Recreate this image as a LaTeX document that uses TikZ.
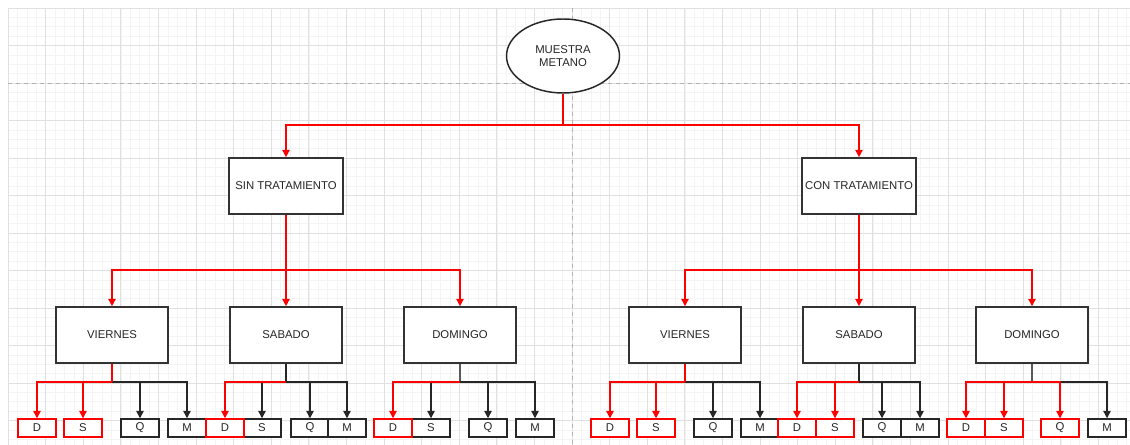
\documentclass[tikz,border=0pt]{standalone}
\usepackage{fontspec}
\setmainfont{Liberation Sans}
\usepackage{xcolor}
\usetikzlibrary{shapes.geometric,arrows.meta,calc}
\definecolor{rojo}{HTML}{FF0000}
\definecolor{gridmayor}{HTML}{E0E0E0}
\definecolor{gridmenor}{HTML}{F4F4F4}

\begin{document}
\begin{tikzpicture}[x=0.75pt,y=-0.75pt,
    every node/.style={fill=white,inner sep=0pt,text=black!85,font=\fontsize{8.5}{9.6}\selectfont},
    cajon/.style={draw=black!80,line width=1.2pt,minimum width=85.5pt,minimum height=42pt},
    hoja/.style={draw=black!85,line width=1.1pt,minimum width=28.5pt,minimum height=13.5pt},
    hojaroja/.style={hoja,draw=rojo},
    linearoja/.style={draw=rojo,line width=1.05pt},
    flecharoja/.style={linearoja,-{Triangle[length=5.5pt,width=5.5pt]}},
    lineanegra/.style={draw=black!85,line width=1.05pt},
    flechanegra/.style={lineanegra,-{Triangle[length=5.5pt,width=5.5pt]}}]

        % fondo y cuadricula
        \fill[white] (0,0) rectangle (1130,445);
        \useasboundingbox (0,0) rectangle (1130,445);
        \foreach \i in {0,...,119} \draw[gridmenor,line width=0.4pt] ({8+\i*9.4},8) -- ({8+\i*9.4},445);
        \foreach \i in {0,...,46} \draw[gridmenor,line width=0.4pt] (8,{8+\i*9.375}) -- (1130,{8+\i*9.375});
        \foreach \i in {0,...,29} \draw[gridmayor,line width=0.6pt] ({8+\i*37.6},8) -- ({8+\i*37.6},445);
        \foreach \i in {0,...,11} \draw[gridmayor,line width=0.6pt] (8,{8+\i*37.5}) -- (1130,{8+\i*37.5});
        \draw[black!30,dashed,line width=0.7pt] (572,8) -- (572,445);
        \draw[black!30,dashed,line width=0.7pt] (8,83) -- (1130,83);

        % nodos
        \node (muestra) [draw=black!85,line width=1.1pt,ellipse,minimum width=84.75pt,minimum height=55.5pt,align=center] at (563,56) {MUESTRA\\METANO};

        \node (sin) [cajon] at (286,186) {SIN TRATAMIENTO};
        \node (con) [cajon] at (859,186) {CON TRATAMIENTO};

        \node (vie1) [cajon,minimum width=84pt] at (112,335) {VIERNES};
        \node (sab1) [cajon,minimum width=84pt] at (286,335) {SABADO};
        \node (dom1) [cajon,minimum width=84pt] at (460,335) {DOMINGO};
        \node (vie2) [cajon,minimum width=84pt] at (685,335) {VIERNES};
        \node (sab2) [cajon,minimum width=84pt] at (859,335) {SABADO};
        \node (dom2) [cajon,minimum width=84pt] at (1032,335) {DOMINGO};

        \node (v1q) [hoja] at (140,428) {Q};
        \node (v1m) [hoja] at (187,428) {M};
        \node (v1d) [hojaroja] at (37,428) {D};
        \node (v1s) [hojaroja] at (83,428) {S};

        \node (s1s) [hoja] at (262,428) {S};
        \node (s1q) [hoja] at (310,428) {Q};
        \node (s1m) [hoja] at (347,428) {M};
        \node (s1d) [hojaroja] at (225,428) {D};

        \node (d1s) [hoja] at (431,428) {S};
        \node (d1q) [hoja] at (488,428) {Q};
        \node (d1m) [hoja] at (535,428) {M};
        \node (d1d) [hojaroja] at (393,428) {D};

        \node (v2q) [hoja] at (713,428) {Q};
        \node (v2m) [hoja] at (760,428) {M};
        \node (v2d) [hojaroja] at (610,428) {D};
        \node (v2s) [hojaroja] at (656,428) {S};

        \node (s2q) [hoja] at (882,428) {Q};
        \node (s2m) [hoja] at (920,428) {M};
        \node (s2d) [hojaroja] at (797,428) {D};
        \node (s2s) [hojaroja] at (835,428) {S};

        \node (d2m) [hoja] at (1107,428) {M};
        \node (d2d) [hojaroja] at (966,428) {D};
        \node (d2s) [hojaroja] at (1004,428) {S};
        \node (d2q) [hojaroja] at (1060,428) {Q};

        % puntos de reparto
        \coordinate (btop) at (563,125);
        \coordinate (bsin) at (286,270);
        \coordinate (bcon) at (859,270);
        \coordinate (bv1) at (112,382);
        \coordinate (bs1) at (286,382);
        \coordinate (bd1) at (460,382);
        \coordinate (bv2) at (685,382);
        \coordinate (bs2) at (859,382);
        \coordinate (bd2) at (1032,382);

        % primer nivel
        \draw[linearoja] (muestra) -- (btop);
        \draw[flecharoja] (btop) -| (sin);
        \draw[flecharoja] (btop) -| (con);

        % segundo nivel
        \draw[linearoja] (sin) -- (bsin);
        \draw[flecharoja] (bsin) -| (vie1);
        \draw[flecharoja] (bsin) -- (sab1);
        \draw[flecharoja] (bsin) -| (dom1);
        \draw[linearoja] (con) -- (bcon);
        \draw[flecharoja] (bcon) -| (vie2);
        \draw[flecharoja] (bcon) -- (sab2);
        \draw[flecharoja] (bcon) -| (dom2);

        % tercer nivel, negro debajo y rojo encima
        \draw[flechanegra] (bv1) -| (v1q);
        \draw[flechanegra] (bv1) -| (v1m);
        \draw[linearoja] (vie1) -- (bv1);
        \draw[flecharoja] (bv1) -| (v1d);
        \draw[flecharoja] (bv1) -| (v1s);

        \draw[lineanegra] (sab1) -- (bs1);
        \draw[flechanegra] (bs1) -| (s1s);
        \draw[flechanegra] (bs1) -| (s1q);
        \draw[flechanegra] (bs1) -| (s1m);
        \draw[flecharoja] (bs1) -| (s1d);

        \draw[draw=black!65,line width=1.4pt] (dom1) -- (bd1);
        \draw[flechanegra] (bd1) -| (d1s);
        \draw[flechanegra] (bd1) -| (d1q);
        \draw[flechanegra] (bd1) -| (d1m);
        \draw[flecharoja] (bd1) -| (d1d);

        \draw[flechanegra] (bv2) -| (v2q);
        \draw[flechanegra] (bv2) -| (v2m);
        \draw[linearoja] (vie2) -- (bv2);
        \draw[flecharoja] (bv2) -| (v2d);
        \draw[flecharoja] (bv2) -| (v2s);

        \draw[lineanegra] (sab2) -- (bs2);
        \draw[flechanegra] (bs2) -| (s2q);
        \draw[flechanegra] (bs2) -| (s2m);
        \draw[flecharoja] (bs2) -| (s2d);
        \draw[flecharoja] (bs2) -| (s2s);

        \draw[draw=black!65,line width=1.4pt] (dom2) -- (bd2);
        \draw[flechanegra] (bd2) -| (d2m);
        \draw[flecharoja] (bd2) -| (d2d);
        \draw[flecharoja] (bd2) -| (d2s);
        \draw[flecharoja] (bd2) -| (d2q);
    \end{tikzpicture}
\end{document}
